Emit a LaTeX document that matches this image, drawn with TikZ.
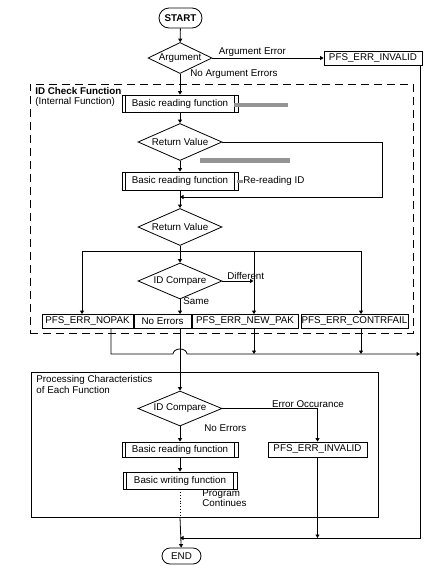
\documentclass[tikz,border=0pt]{standalone}
\usepackage{fontspec}
\setmainfont{Liberation Sans}
\usetikzlibrary{shapes.geometric, shapes.misc, arrows.meta, positioning, calc}
\tikzset{
    term/.style={rounded rectangle, draw, minimum width=45pt, minimum height=20pt, inner sep=1pt},
    decision/.style={diamond, draw, aspect=2.3, inner sep=0pt,
                     minimum width=84pt, minimum height=37pt},
    box/.style={rectangle, draw, inner sep=0.5pt, minimum height=14pt},
    subproc/.style={box, minimum width=116pt, minimum height=17pt},
    lbl/.style={inner sep=1pt},
    arrow/.style={-{Triangle[length=3.5pt, width=4pt]}},
    hatch/.style={fill=black!42}
}

\begin{document}
\begin{tikzpicture}[x=1pt, y=-1pt, line width=0.8pt, font=\fontsize{9.8}{10.5}\selectfont]
  \useasboundingbox (0,0) rectangle (434,576);

  % --- Start / argument check ---
  \node[term, font=\fontsize{9.8}{10.5}\selectfont\bfseries] (start) at (180.5,18) {START};
  \node[decision, minimum width=64pt, minimum height=31pt] (arg) at (180,58) {Argument};
  \node[box, minimum width=98pt] (inv1) at (373,58) {PFS\_ERR\_INVALID};

  % --- ID check function (dashed group) ---
  \node[draw, dashed, dash pattern=on 8pt off 5pt, minimum width=383pt,
        minimum height=249pt, inner sep=0pt] (idbox) at (221.5,208.5) {};
  \node[anchor=north west, align=left, inner sep=0pt,
        font=\fontsize{9.8}{9.5}\selectfont] (idtitle) at (35,87)
        {\textbf{ID Check Function}\\(Internal Function)};

  \node[subproc] (rd1) at (180,103.5) {Basic reading function};
  \node[decision] (rv1) at (180,142) {Return Value};
  \node[subproc, minimum height=18pt] (rd2) at (180,181) {Basic reading function};
  \node[lbl, anchor=west] (reread) at (242,181) {Re-reading ID};
  \coordinate (j1) at (180,197);
  \node[decision] (rv2) at (180,227) {Return Value};
  \coordinate (br) at (180,251);
  \node[decision, minimum height=36pt] (idc1) at (180,281) {ID Compare};

  \node[box, minimum width=91pt]  (nopak)  at (87.5,321.5)  {PFS\_ERR\_NOPAK};
  \node[box, minimum width=57pt]  (noerr)  at (162.5,321.5) {No Errors};
  \node[box, minimum width=106pt] (newpak) at (245,321.5)   {PFS\_ERR\_NEW\_PAK};
  \node[box, minimum width=107pt] (contr)  at (354.5,321.5) {PFS\_ERR\_CONTRFAIL};

  \coordinate (nox) at ([xshift=-5.5pt]nopak.north);
  \coordinate (npx) at ([xshift=9pt]newpak.north);
  \coordinate (cfx) at ([xshift=6.5pt]contr.north);
  \coordinate (bus) at (420,354);
  \coordinate (ej) at (180,538);

  % --- Processing characteristics ---
  \node[draw, minimum width=347pt, minimum height=145pt, inner sep=0pt]
        (procbox) at (204.5,444.5) {};
  \node[anchor=north west, align=left, inner sep=0pt,
        font=\fontsize{9.8}{11}\selectfont] (proctitle) at (36,375)
        {Processing Characteristics\\of Each Function};
  \node[decision, minimum height=35pt] (idc2) at (180,408.5) {ID Compare};
  \node[subproc, minimum height=15pt] (rd3) at (180,449.5) {Basic reading function};
  \node[box, minimum width=99pt, minimum height=15pt] (inv2) at (317.5,449.5) {PFS\_ERR\_INVALID};
  \node[subproc, minimum width=114pt] (wr1) at (180,480.5) {Basic writing function};
  \node[lbl, anchor=west, align=left, font=\fontsize{9.8}{10}\selectfont]
        (cont) at (201,498) {Program\\Continues};

  \node[term, minimum width=41pt, minimum height=16pt] (end) at (181.5,556) {END};

  % double side lines of the sub-process boxes
  \foreach \n in {rd1,rd2,rd3,wr1} {
    \draw ([xshift=4pt]\n.north west) -- ([xshift=4pt]\n.south west)
          ([xshift=-4pt]\n.north east) -- ([xshift=-4pt]\n.south east);
  }

  % hatched marks
  \fill[hatch] (234,103) rectangle (288,107);
  \fill[hatch] (200,158) rectangle (290,163);
  \fill[hatch] (237,179.5) rectangle (243,183);

  % --- Arrows ---
  \draw[arrow] (start) -- (arg);
  \draw[arrow] (arg) -- node[above, lbl, pos=0.36] (lblargerr) {Argument Error} (inv1);
  \draw[arrow] (arg) -- node[lbl, pos=0.03, anchor=west, xshift=9pt] (lblnoarg) {No Argument Errors} (rd1);
  \draw[arrow] (rd1) -- (rv1);
  \draw[arrow] (rv1) -- (rd2);
  \draw[arrow] (rv1.east) -- ++(160,0) |- (j1);
  \draw (rd2) -- (j1);
  \draw[arrow] (j1) -- (rv2);
  \draw (rv2) -- (br);
  \draw[arrow] (br) -- (idc1);
  \draw[arrow] (br) -| (nox);
  \draw[arrow] (br) -| (npx);
  \draw[arrow] (br) -| (cfx);
  \draw[arrow] (idc1.east) -- node[lbl, above, pos=0.75] (lbldiff) {Different} ([xshift=-0.5pt]idc1.east -| npx);
  \draw[arrow] (idc1) -- node[lbl, pos=0.1, anchor=west, xshift=2pt] (lblsame) {Same} (idc1 |- noerr.north);

  % exits of the ID check
  \draw[arrow] ([xshift=23.5pt]nopak.south) |- ([xshift=-7pt]bus -| idc1)
        arc[start angle=180, end angle=0, x radius=7pt, y radius=5pt] -- (bus);
  \draw[arrow] (npx |- newpak.south) -- (npx |- bus);
  \draw[arrow] (cfx |- contr.south) -- (cfx |- bus);
  \draw[arrow] ([xshift=-2pt]inv1.south east) |- (ej);
  \draw[arrow] (idc1 |- noerr.south) -- (idc2);

  % processing characteristics
  \draw[arrow] (idc2.east) -| node[lbl, above, pos=0.45] (lblerrocc) {Error Occurance} (inv2);
  \draw[arrow] (idc2) -- node[lbl, pos=0.1, anchor=west, xshift=23pt] (lblnoerr) {No Errors} (rd3);
  \draw[arrow] (rd3) -- (wr1);
  \draw[dotted] (wr1) -- (wr1 |- procbox.south);
  \draw[arrow] (wr1 |- procbox.south) -- (end);
  \draw[arrow] (inv2) -- (inv2 |- ej);

\end{tikzpicture}
\end{document}
